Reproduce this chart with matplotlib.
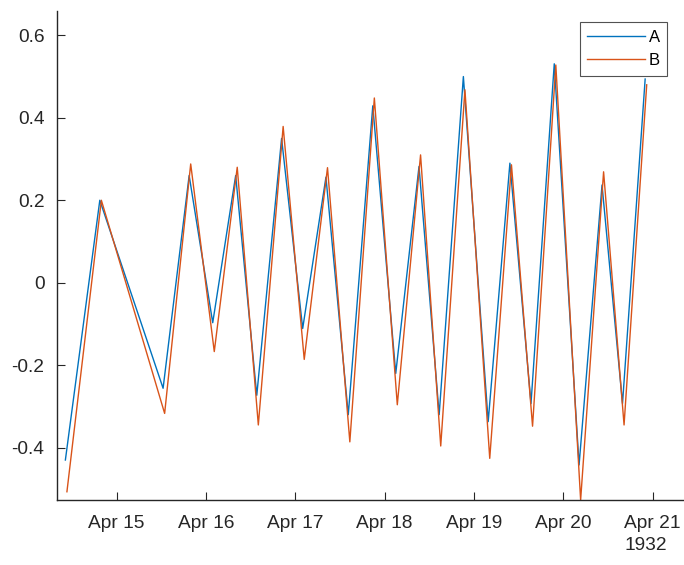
import numpy as np
import pandas as pd
import matplotlib
matplotlib.use("Agg")
import matplotlib.pyplot as plt
import matplotlib.dates as mdates

# sample times for series A, B lags a little behind
times_a = ["1932-04-14 10:15", "1932-04-14 19:30", "1932-04-15 12:30", "1932-04-15 19:30",
           "1932-04-16 01:50", "1932-04-16 08:00", "1932-04-16 13:40", "1932-04-16 20:20",
           "1932-04-17 02:00", "1932-04-17 08:15", "1932-04-17 14:15", "1932-04-17 20:50",
           "1932-04-18 03:00", "1932-04-18 09:15", "1932-04-18 14:40", "1932-04-18 21:10",
           "1932-04-19 03:50", "1932-04-19 09:40", "1932-04-19 15:20", "1932-04-19 21:35",
           "1932-04-20 04:15", "1932-04-20 10:25", "1932-04-20 15:55", "1932-04-20 22:00"]
b_lag_minutes = 25

a_vals = [-0.43, 0.20, -0.256, 0.26, -0.097, 0.26, -0.273, 0.35,
          -0.111, 0.256, -0.32, 0.429, -0.22, 0.282, -0.32, 0.50,
          -0.337, 0.29, -0.293, 0.531, -0.442, 0.237, -0.293, 0.494]
b_vals = [-0.507, 0.20, -0.317, 0.288, -0.167, 0.28, -0.345, 0.379,
          -0.186, 0.279, -0.386, 0.448, -0.296, 0.31, -0.396, 0.468,
          -0.426, 0.286, -0.348, 0.528, -0.527, 0.269, -0.345, 0.48]

labels = ["A", "B"]
x_start, x_end = "1932-04-14 08:00", "1932-04-21 08:10"
y_lim = (-0.527, 0.659)

ta = pd.to_datetime(times_a)
tb = ta + pd.Timedelta(minutes=b_lag_minutes)

text_col = "#262626"
plt.rcParams['font.family'] = ['Liberation Sans', 'DejaVu Sans']

fig = plt.figure(figsize=(6.84, 5.65), dpi=100)
ax = fig.add_axes([57 / 684, 1 - 500 / 565, (683 - 57) / 684, (500 - 11) / 565])

ax.plot(ta, a_vals, color="#0072BD", lw=1.0, label=labels[0])
ax.plot(tb, b_vals, color="#D95319", lw=1.0, label=labels[1])

ax.set_xlim(pd.Timestamp(x_start), pd.Timestamp(x_end))
ax.set_ylim(*y_lim)
ax.set_yticks([-0.4, -0.2, 0, 0.2, 0.4, 0.6])
ax.set_yticklabels(["-0.4", "-0.2", "0", "0.2", "0.4", "0.6"])

ax.xaxis.set_major_locator(mdates.DayLocator())
ax.xaxis.set_major_formatter(mdates.DateFormatter("%b %d"))

for s in ["top", "right"]:
    ax.spines[s].set_visible(False)
for s in ["left", "bottom"]:
    ax.spines[s].set_color(text_col)
    ax.spines[s].set_linewidth(1.0)

ax.tick_params(direction="in", length=5.5, width=0.8, colors=text_col,
               labelsize=13.8)
ax.tick_params(axis="x", pad=11)
ax.tick_params(axis="y", pad=9)

fig.canvas.draw()
names = [t.get_text() for t in ax.get_xticklabels()]
names[-1] = names[-1] + "\n1932"
ax.set_xticklabels(names)
last = ax.get_xticklabels()[-1]
last.set_multialignment("left")
last.set_linespacing(1.4)

leg = ax.legend(loc="upper right", bbox_to_anchor=(0.975, 0.977), fontsize=12,
                frameon=True, fancybox=False, handlelength=3.5, handletextpad=0.2,
                borderpad=0.45, labelspacing=0.5, borderaxespad=0)
leg.get_frame().set_edgecolor(text_col)
leg.get_frame().set_linewidth(0.8)
for t in leg.get_texts():
    t.set_color("black")

fig.savefig("out.png", dpi=100)
